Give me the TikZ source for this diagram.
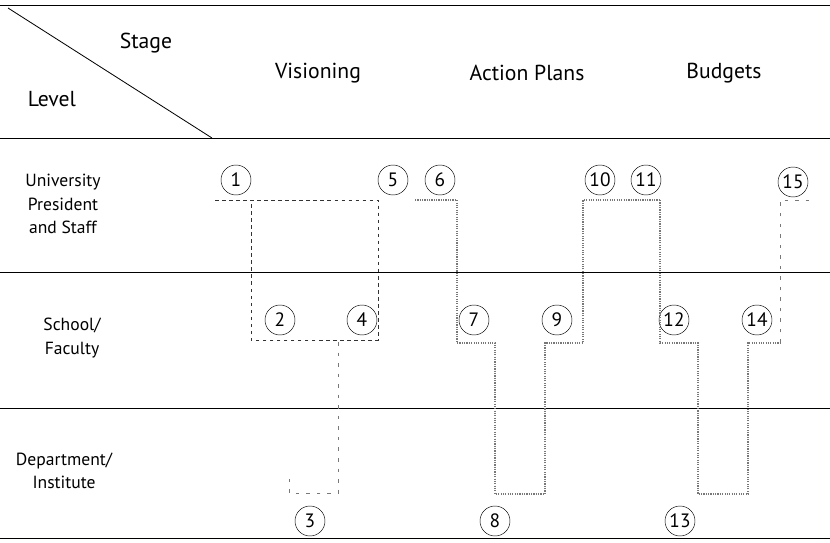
\documentclass[tikz,border=0pt]{standalone}
\usepackage{fontspec}
\setmainfont{PT Sans}
\usepackage{xcolor}
\definecolor{trace}{RGB}{120,120,120}
\usetikzlibrary{positioning,calc}
\tikzset{
  stepnum/.style={draw,circle,minimum size=9mm,inner sep=0pt,font=\fontsize{16.5}{18}\selectfont},
  heading/.style={font=\fontsize{18.5}{22}\selectfont},
  levelname/.style={font=\fontsize{15}{20}\selectfont,align=center},
  rule/.style={line width=0.7pt,black},
  vision/.style={dashed,line width=0.6pt,black!80},
  plan/.style={line width=1pt,draw=trace,densely dotted},
  drop/.style={line width=0.7pt,draw=trace,loosely dashed},
}
\begin{document}
\begin{tikzpicture}[x=0.3mm,y=-0.3mm]
\useasboundingbox (0,0) rectangle (830,542);
% frame lines
\draw[rule] (0,5) -- (830,5);
\draw[rule] (0,138) -- (830,138);
\draw[rule] (0,272) -- (830,272);
\draw[rule] (0,408) -- (830,408);
\draw[rule] (0,538) -- (830,538);
\draw[rule] (8,8) -- (212,138);
% headings
\node[heading] (stage) at (146,43) {Stage};
\node[heading] (level) at (52,99) {Level};
\node[heading] (vis) at (318,73) {Visioning};
\node[heading] (act) at (527,73) {Action Plans};
\node[heading] (bud) at (724,73) {Budgets};
\node[levelname] (univ) at (63,204) {University\\President\\and Staff};
\node[levelname] (school) at (72,338) {School/\\Faculty};
\node[levelname] (dept) at (64,471) {Department/\\Institute};
% numbered steps
\node[stepnum] (s1) at (236,180) {1};
\node[stepnum] (s5) at (393,180) {5};
\node[stepnum] (s6) at (440,180) {6};
\node[stepnum] (s10) at (600,180) {10};
\node[stepnum] (s11) at (646,180) {11};
\node[stepnum] (s15) at (793,182) {15};
\node[stepnum] (s2) at (280,320) {2};
\node[stepnum] (s4) at (362,320) {4};
\node[stepnum] (s7) at (474,320) {7};
\node[stepnum] (s9) at (557,320) {9};
\node[stepnum] (s12) at (674,320) {12};
\node[stepnum] (s14) at (757,320) {14};
\node[stepnum] (s3) at (310,521) {3};
\node[stepnum] (s8) at (495,521) {8};
\node[stepnum] (s13) at (680,521) {13};
% visioning trace
\draw[vision] (215,200) -- (378,200) -- (378,340) -- (251,340) -- (251,200);
\draw[drop] (338,342) -- (338,493) -- (289,493) -- (289,478);
% action plans trace
\draw[plan] (415,200) -- (457,200) -- (457,343) -- (495,343) -- (495,494)
  -- (545,494) -- (545,343) -- (583,343) -- (583,200) -- (660,200);
% budgets trace
\draw[plan] (660,200) -- (660,343) -- (698,343) -- (698,494)
  -- (748,494) -- (748,343) -- (780,343);
\draw[drop] (780,343) -- (780,200) -- (812,200);
\end{tikzpicture}
\end{document}
